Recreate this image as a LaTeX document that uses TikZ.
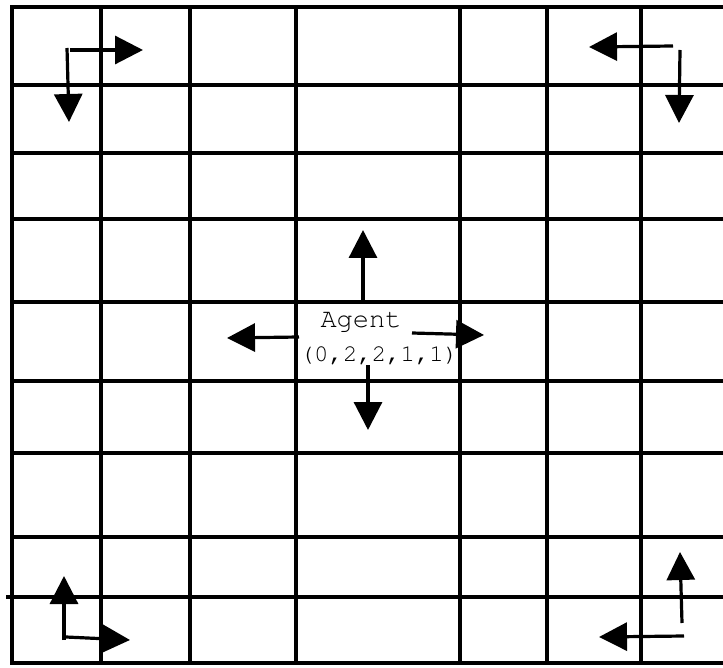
\documentclass[tikz,border=0pt]{standalone}
\usepackage[T1]{fontenc}
\usetikzlibrary{arrows.meta,positioning}
\newcommand{\agentfont}{\fontencoding{T1}\fontfamily{pcr}\selectfont}

\begin{document}
\begin{tikzpicture}[
        x=1pt,y=-1pt,
        grid/.style={line width=3.2pt,line cap=rect},
        move/.style={line width=3.2pt,-{Triangle[length=28pt,width=28pt]}},
        lbl/.style={inner sep=0pt}
      ]
      \useasboundingbox (0,0) rectangle (723,668);

      % grid lines
      \foreach \y in {7,85,153,219,302,453,537,663}
        \draw[grid] (12,\y) -- (723,\y);
      \draw[grid] (15,381) -- (723,381);
      \draw[grid] (8,597) -- (723,597);
      \foreach \x in {12,101,190,296,460,547,641}
        \draw[grid] (\x,7) -- (\x,663);

      % agent
      \node[lbl,font=\agentfont\fontsize{27}{29}\selectfont] (agent) at (361,322) {Agent};
      \node[lbl,font=\agentfont\fontsize{24}{26}\selectfont] (state) at (379,355) {(0,2,2,1,1)};

      % end points of the moves
      \coordinate (tlR0) at (70,50);   \coordinate (tlR1) at (143,50);
      \coordinate (tlD0) at (67,48);   \coordinate (tlD1) at (69,122);
      \coordinate (trL0) at (673,46);  \coordinate (trL1) at (589,47);
      \coordinate (trD0) at (680,50);  \coordinate (trD1) at (679,123);
      \coordinate (blU0) at (64,640);  \coordinate (blU1) at (64,576);
      \coordinate (blR0) at (66,637);  \coordinate (blR1) at (130,640);
      \coordinate (brU0) at (682,623); \coordinate (brU1) at (680,552);
      \coordinate (brL0) at (684,636); \coordinate (brL1) at (599,637);
      \coordinate (cU0) at (363,302);  \coordinate (cU1) at (363,230);
      \coordinate (cL0) at (299,337);  \coordinate (cL1) at (227,338);
      \coordinate (cR0) at (412,333);  \coordinate (cR1) at (484,335);
      \coordinate (cD0) at (368,365);  \coordinate (cD1) at (368,430);

      \foreach \m in {tlR,tlD,trL,trD,blU,blR,brU,brL,cU,cL,cR,cD}
        \draw[move] (\m0) -- (\m1);
    \end{tikzpicture}
\end{document}
